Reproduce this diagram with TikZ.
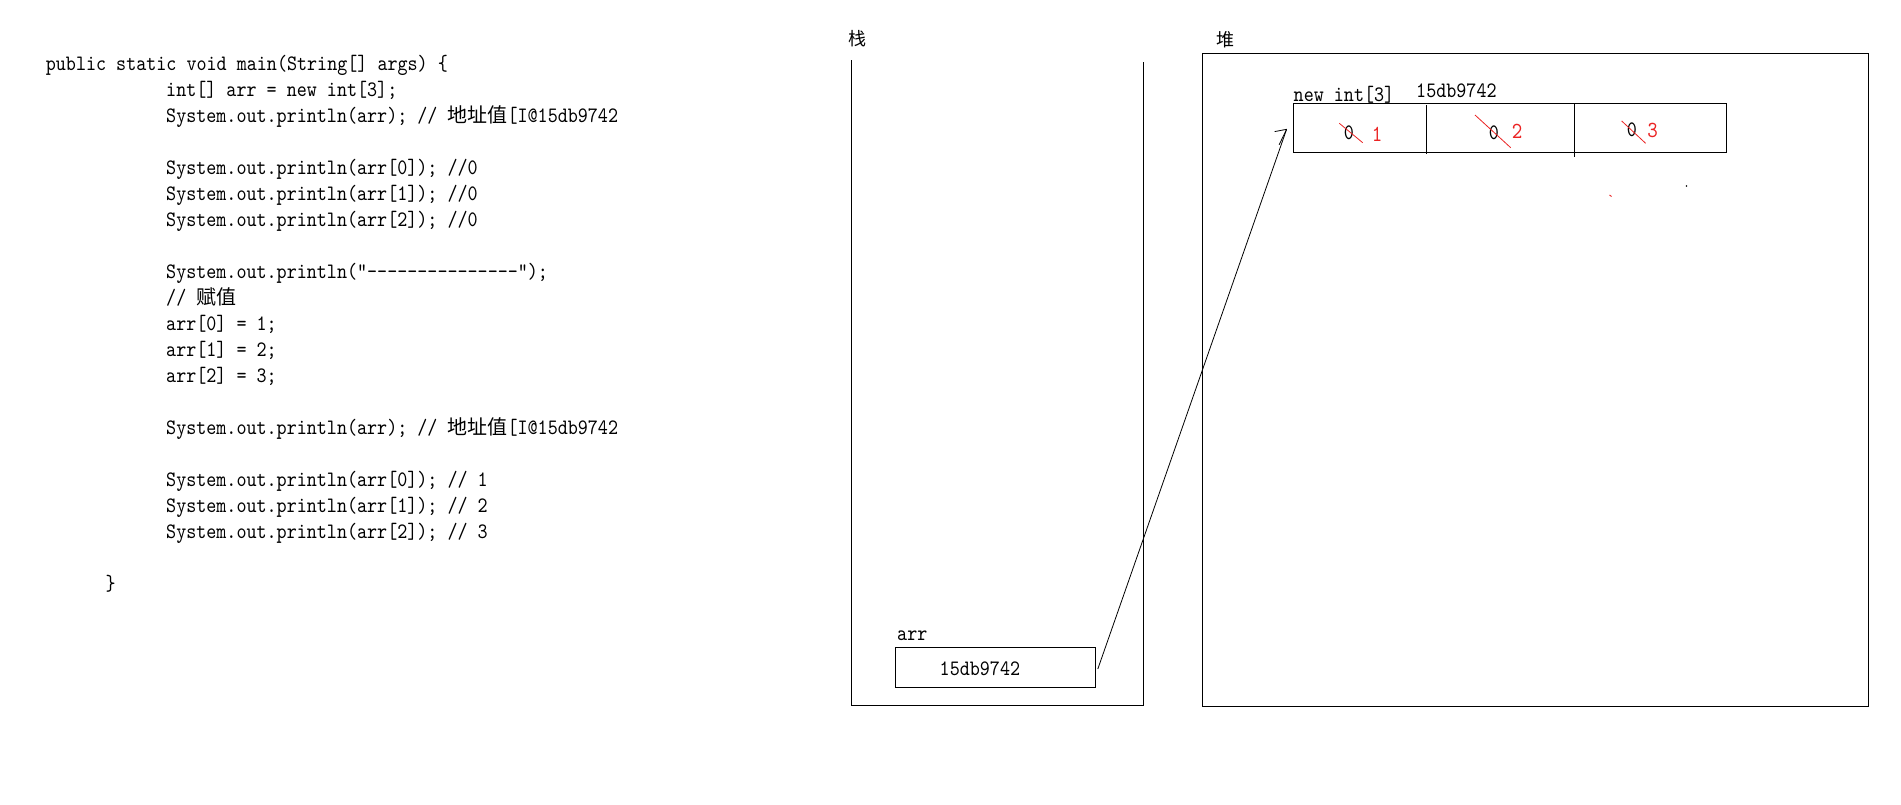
\documentclass[tikz,border=0pt]{standalone}
\usepackage{fontspec}
\setmonofont{lmmono10-regular.otf}[FakeStretch=0.87]
\newfontfamily\zh{Noto Sans CJK SC}
\newcommand\zhc[1]{{\fontsize{20}{24}\zh #1}}
\definecolor{redmark}{RGB}{235,35,35}
\tikzset{
  code/.style={anchor=base west, inner sep=0pt, font=\ttfamily\fontsize{22}{26}\selectfont},
  lbl/.style={anchor=base west, inner sep=0pt, font=\ttfamily\fontsize{22}{26}\selectfont},
  cjklbl/.style={inner sep=0pt, font=\zh\fontsize{18}{20}\selectfont},
  zero/.style={anchor=base, inner sep=0pt, font=\ttfamily\fontsize{22}{26}\selectfont},
  newval/.style={anchor=base, inner sep=0pt, text=redmark, font=\ttfamily\fontsize{23}{26}\selectfont},
  strike/.style={draw=redmark, line width=0.8pt},
  heapbox/.style={draw, line width=1.6pt, minimum width=666pt, minimum height=653pt, inner sep=0pt},
  cellbox/.style={draw, line width=1.3pt, minimum width=433.5pt, minimum height=49pt, inner sep=0pt},
  valbox/.style={draw, line width=1.2pt, minimum width=200pt, minimum height=39.6pt, inner sep=0pt},
  stackline/.style={line width=1.3pt},
  divider/.style={line width=1.1pt},
  pointer/.style={line width=0.8pt}
}
\begin{document}
\begin{tikzpicture}[x=1pt,y=-1pt]
\useasboundingbox (0,0) rectangle (1901,804);
\fill[white] (0,0) rectangle (1901,804);

% ---- code ----
\node[code] (c0)  at (45.7,70)  {public static void main(String[] args) \{};
\node[code] (c1)  at (166,96)   {int[] arr = new int[3];};
\node[code] (c2)  at (166,122)  {System.out.println(arr); // \zhc{地址值}[I@15db9742};
\node[code] (c4)  at (166,174)  {System.out.println(arr[0]); //0};
\node[code] (c5)  at (166,200)  {System.out.println(arr[1]); //0};
\node[code] (c6)  at (166,226)  {System.out.println(arr[2]); //0};
\node[code] (c8)  at (166,278)  {System.out.println("---------------");};
\node[code] (c9)  at (166,304)  {// \zhc{赋值}};
\node[code] (c10) at (166,330)  {arr[0] = 1;};
\node[code] (c11) at (166,356)  {arr[1] = 2;};
\node[code] (c12) at (166,382)  {arr[2] = 3;};
\node[code] (c14) at (166,434)  {System.out.println(arr); // \zhc{地址值}[I@15db9742};
\node[code] (c16) at (166,486)  {System.out.println(arr[0]); // 1};
\node[code] (c17) at (166,512)  {System.out.println(arr[1]); // 2};
\node[code] (c18) at (166,538)  {System.out.println(arr[2]); // 3};
\node[code] (c20) at (105.5,590) {\}};

% ---- stack ----
\node[cjklbl] (stacklbl) at (857,38.5) {栈};
\draw[stackline] (851.5,60) -- (851.5,705.7) -- (1143.3,705.7) -- (1143.3,62);
\node[lbl] (arrlbl) at (897,640) {arr};
\node[valbox] (arrval) at (995.7,667.5) {};
\node[lbl] (arrtxt) at (939.5,675) {15db9742};

% ---- heap ----
\node[cjklbl] (heaplbl) at (1225.5,39.5) {堆};
\node[heapbox] (heap) at (1535.5,379.8) {};
\node[lbl] (newlbl) at (1293.5,101) {new int[3]};
\node[lbl] (addr) at (1416,97.5) {15db9742};
\node[cellbox] (arrbox) at (1510,127.8) {};
\draw[divider] (1426.5,105) -- (1426.5,153.5);
\draw[divider] (1574.5,103.3) -- (1574.5,156.7);

\node[zero] (z1) at (1349,139.3) {0};
\node[zero] (z2) at (1494,139) {0};
\node[zero] (z3) at (1632,136.7) {0};
\draw[strike] (1339.3,123.3) -- (1362.7,142.7);
\draw[strike] (1475,115) -- (1510.7,147.7);
\draw[strike] (1621.7,121) -- (1645.6,143.3);
\node[newval] (v1) at (1377,141.7) {1};
\node[newval] (v2) at (1517,138.3) {2};
\node[newval] (v3) at (1652.5,137.3) {3};

% stray marks
\draw[draw=redmark, line width=0.9pt] (1609.5,195) -- (1611.5,196.5);
\fill (1686.4,186) circle (0.9pt);

% ---- pointer ----
\coordinate (src) at ([xshift=1.5pt,yshift=-1.5pt]arrval.east);
\coordinate (tip) at ([xshift=-6pt,yshift=-1.5pt]arrbox.west);
\draw[pointer] (src) -- (tip);
\draw[pointer] (tip) -- ++(-12,2.3);
\draw[pointer] (tip) -- ++(-7.5,15.5);
\end{tikzpicture}
\end{document}
